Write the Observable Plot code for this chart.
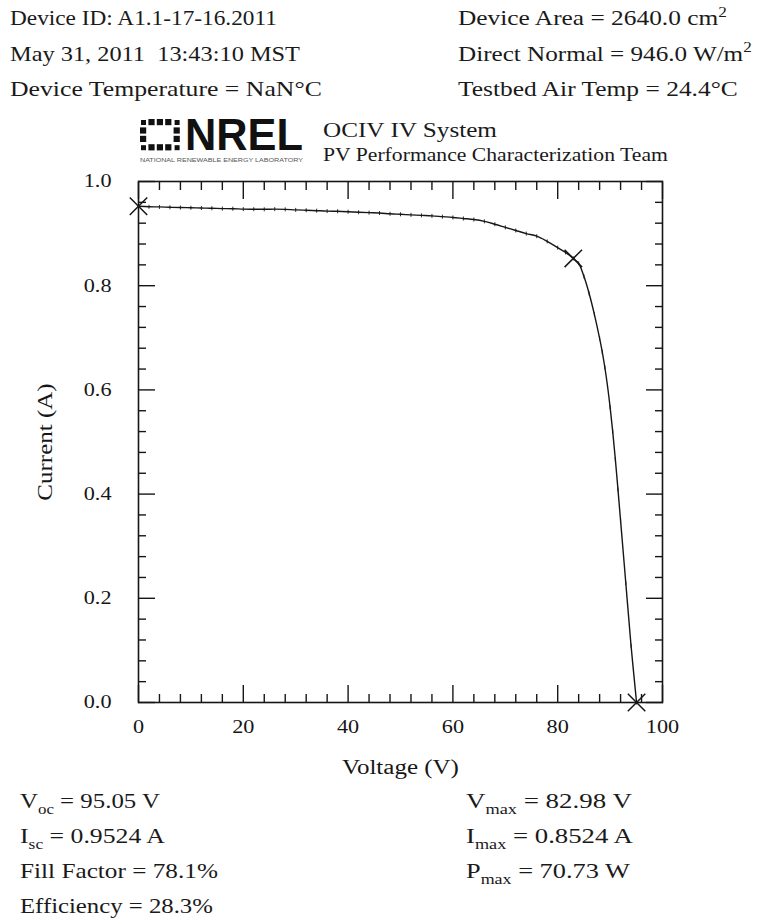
<!DOCTYPE html>
<html>
<head>
<meta charset="utf-8">
<script src="https://cdn.jsdelivr.net/npm/d3@7"></script>
<script src="https://cdn.jsdelivr.net/npm/@observablehq/plot@0.6"></script>
<style>
  body { margin: 0; background: #fff; }
  #page { position: relative; width: 760px; height: 921px; overflow: hidden; }
  #chart { position: absolute; left: 0; top: 170px; }
  #overlay { position: absolute; left: 0; top: 0; }
</style>
</head>
<body>
<div id="page">
  <div id="chart"></div>
  <svg id="overlay" width="760" height="921" font-family="Liberation Serif, Times New Roman, serif" fill="#1a1a1a"></svg>
</div>
<script>
// Measured I-V sweep: voltage (V) and current (A)
const voltage = [0, 2, 4, 6, 8, 10, 12, 14, 16, 18, 20, 22, 24, 26, 28, 30, 32, 34, 36, 38,
  40, 42, 44, 46, 48, 50, 52, 54, 56, 58, 60, 62, 64, 66, 68, 70, 72, 74, 76, 78,
  80, 81.5, 82.98, 84, 85, 86, 87, 88, 88.5, 89, 89.5, 90, 90.5, 91, 91.5, 92, 93, 94, 95.05];
const current = [0.9524, 0.9515, 0.9512, 0.9505, 0.9500, 0.9496, 0.9490, 0.9486, 0.9480, 0.9478,
  0.9470, 0.9468, 0.9466, 0.9470, 0.9465, 0.9455, 0.9448, 0.9440, 0.9432, 0.9428,
  0.9420, 0.9410, 0.9402, 0.9395, 0.9380, 0.9370, 0.9360, 0.9350, 0.9340, 0.9325,
  0.9310, 0.9290, 0.9270, 0.9235, 0.9180, 0.9120, 0.9060, 0.9000, 0.8950, 0.8850,
  0.8730, 0.8640, 0.8524, 0.8430, 0.8180, 0.7850, 0.7450, 0.6990, 0.6730, 0.6430,
  0.6080, 0.5670, 0.5200, 0.4670, 0.4090, 0.3490, 0.2290, 0.1090, 0.0000];

// Key points: Isc, maximum power point, Voc
const keyVoltage = [0, 82.98, 95.05];
const keyCurrent = [0.9524, 0.8524, 0];

// Axis ticks
const xMajor = [0, 20, 40, 60, 80, 100];
const xMinor = [4, 8, 12, 16, 24, 28, 32, 36, 44, 48, 52, 56, 64, 68, 72, 76, 84, 88, 92, 96];
const yMajor = [0, 0.2, 0.4, 0.6, 0.8, 1.0];
const yMinor = [0.04, 0.08, 0.12, 0.16, 0.24, 0.28, 0.32, 0.36, 0.44, 0.48, 0.52, 0.56,
  0.64, 0.68, 0.72, 0.76, 0.84, 0.88, 0.92, 0.96];

// Header and summary lines: plain text, "_" subscript, "^" superscript
const headerLeft = [
  ["Device ID: A1.1-17-16.2011"],
  ["May 31, 2011\u00a0\u00a013:43:10 MST"],
  ["Device Temperature = NaN°C"]
];
const headerRight = [
  ["Device Area = 2640.0 cm", "^2"],
  ["Direct Normal = 946.0 W/m", "^2"],
  ["Testbed Air Temp = 24.4°C"]
];
const summaryLeft = [
  ["V", "_oc", " = 95.05 V"],
  ["I", "_sc", " = 0.9524 A"],
  ["Fill Factor = 78.1%"],
  ["Efficiency = 28.3%"]
];
const summaryRight = [
  ["V", "_max", " = 82.98 V"],
  ["I", "_max", " = 0.8524 A"],
  ["P", "_max", " = 70.73 W"]
];
const systemLines = ["OCIV IV System", "PV Performance Characterization Team"];

const curve = voltage.map((v, k) => ({v, i: current[k]}));
const keys = keyVoltage.map((v, k) => ({v, i: keyCurrent[k]}));

const ink = "#161616";
const tickOpts = (size) => ({tickSize: size, fill: "none", stroke: ink, strokeWidth: 1.4, label: null});

// short vertical stroke used to mark each sample on the curve
const vbar = {draw(context, size) {
  const h = Math.sqrt(size / Math.PI);
  context.moveTo(0, -h);
  context.lineTo(0, h);
}};

const chart = Plot.plot({
  width: 760,
  height: 610,
  marginTop: 11,
  marginBottom: 78,
  marginLeft: 138,
  marginRight: 98,
  style: {fontFamily: "Liberation Serif, serif", fontSize: "18.5px", color: ink, background: "transparent"},
  x: {domain: [0, 100], label: null},
  y: {domain: [0, 1], label: null},
  marks: [
    // inward ticks on all four sides
    Plot.axisX(xMajor, {anchor: "bottom", ...tickOpts(-17)}),
    Plot.axisX(xMinor, {anchor: "bottom", ...tickOpts(-8)}),
    Plot.axisX(xMajor, {anchor: "top", ...tickOpts(-17)}),
    Plot.axisX(xMinor, {anchor: "top", ...tickOpts(-8)}),
    Plot.axisY(yMajor, {anchor: "left", ...tickOpts(-17)}),
    Plot.axisY(yMinor, {anchor: "left", ...tickOpts(-8)}),
    Plot.axisY(yMajor, {anchor: "right", ...tickOpts(-17)}),
    Plot.axisY(yMinor, {anchor: "right", ...tickOpts(-8)}),
    // tick labels
    Plot.axisX(xMajor, {anchor: "bottom", tickSize: 0, tickPadding: 17, tickFormat: d => String(d), label: null, fill: ink}),
    Plot.axisY(yMajor, {anchor: "left", tickSize: 0, tickPadding: 27, tickFormat: d3.format(".1f"), label: null, fill: ink}),
    Plot.frame({stroke: ink, strokeWidth: 1.6}),
    // axis titles
    Plot.text(["Voltage (V)"], {frameAnchor: "bottom", lineAnchor: "middle", textAnchor: "middle", dy: 65, fontSize: 20, fill: ink}),
    Plot.text(["Current (A)"], {frameAnchor: "left", lineAnchor: "middle", textAnchor: "middle", dx: -93, rotate: -90, fontSize: 20, fill: ink}),
    // I-V curve
    Plot.line(curve, {x: "v", y: "i", stroke: ink, strokeWidth: 1.4, curve: "catmull-rom"}),
    Plot.dot(curve, {x: "v", y: "i", symbol: vbar, r: 2, stroke: ink, strokeWidth: 0.9}),
    Plot.dot(keys, {x: "v", y: "i", symbol: "times", r: 8, stroke: ink, strokeWidth: 1.5})
  ]
});
document.getElementById("chart").appendChild(chart);

// The Times face here is drawn a little wide; stretch each chart label horizontally.
d3.select(chart).selectAll("text").each(function() {
  const isTitle = this.textContent.includes("(");
  const w = this.getComputedTextLength();
  this.setAttribute("textLength", w * (isTitle ? 1.25 : 1.2));
  this.setAttribute("lengthAdjust", "spacingAndGlyphs");
});

// Page texts around the chart
const NS = "http://www.w3.org/2000/svg";
const overlay = document.getElementById("overlay");
function line(parts, x, y, endX, size) {
  const t = document.createElementNS(NS, "text");
  t.setAttribute("font-size", size);
  let shift = 0;
  for (const p of parts) {
    const s = document.createElementNS(NS, "tspan");
    let str = p, dy = -shift, fs = size;
    if (p[0] === "_") { str = p.slice(1); fs = size * 0.68; dy = size * 0.3 - shift; shift = size * 0.3; }
    else if (p[0] === "^") { str = p.slice(1); fs = size * 0.68; dy = -size * 0.38 - shift; shift = -size * 0.38; }
    else shift = 0;
    s.textContent = str;
    s.setAttribute("font-size", fs);
    if (dy) s.setAttribute("dy", dy);
    t.appendChild(s);
  }
  overlay.appendChild(t);
  const w = t.getComputedTextLength();
  t.setAttribute("transform", `translate(${x},${y}) scale(${(endX - x) / w},1)`);
  return t;
}
const headerEnds = [[277, 300, 322], [727, 752, 738]];
headerLeft.forEach((p, k) => line(p, 10, 25 + k * 35.5, headerEnds[0][k], 21.5));
headerRight.forEach((p, k) => line(p, 458, 25 + k * 35.5, headerEnds[1][k], 21.5));
const summaryEnds = [[160, 165, 218, 213], [632, 633, 630]];
summaryLeft.forEach((p, k) => line(p, 20, 808 + k * 35, summaryEnds[0][k], 21));
summaryRight.forEach((p, k) => line(p, 466, 808 + k * 35, summaryEnds[1][k], 21));
line([systemLines[0]], 323, 137, 497, 20);
line([systemLines[1]], 323, 161, 668, 19.5);

// NREL wordmark
const mark = document.createElementNS(NS, "g");
mark.setAttribute("fill", "#111");
const cells = [[1,0],[2,0],[3,0],[0,1],[4,1],[0,2],[4,2],[1,3],[2,3],[3,3],[0,0],[4,0],[0,3],[4,3]];
for (const [c, r] of cells) {
  const s = document.createElementNS(NS, "rect");
  const corner = (c === 0 || c === 4) && (r === 0 || r === 3);
  s.setAttribute("x", 140 + c * 8.4 + (corner ? 1 : 0));
  s.setAttribute("y", 119 + r * 8.4 + (corner ? 1 : 0));
  s.setAttribute("width", corner ? 5 : 6.2);
  s.setAttribute("height", corner ? 5 : 6.2);
  mark.appendChild(s);
}
overlay.appendChild(mark);
const word = document.createElementNS(NS, "text");
word.setAttribute("x", 185);
word.setAttribute("y", 150);
word.setAttribute("font-family", "Liberation Sans, Arial, sans-serif");
word.setAttribute("font-weight", "bold");
word.setAttribute("font-size", 44);
word.setAttribute("textLength", 118);
word.setAttribute("lengthAdjust", "spacingAndGlyphs");
word.setAttribute("fill", "#111");
word.textContent = "NREL";
overlay.appendChild(word);
const tag = document.createElementNS(NS, "text");
tag.setAttribute("x", 140);
tag.setAttribute("y", 162);
tag.setAttribute("font-family", "Liberation Sans, Arial, sans-serif");
tag.setAttribute("font-size", 4.5);
tag.setAttribute("textLength", 163);
tag.setAttribute("lengthAdjust", "spacingAndGlyphs");
tag.setAttribute("fill", "#555");
tag.textContent = "NATIONAL RENEWABLE ENERGY LABORATORY";
overlay.appendChild(tag);
</script>
</body>
</html>
